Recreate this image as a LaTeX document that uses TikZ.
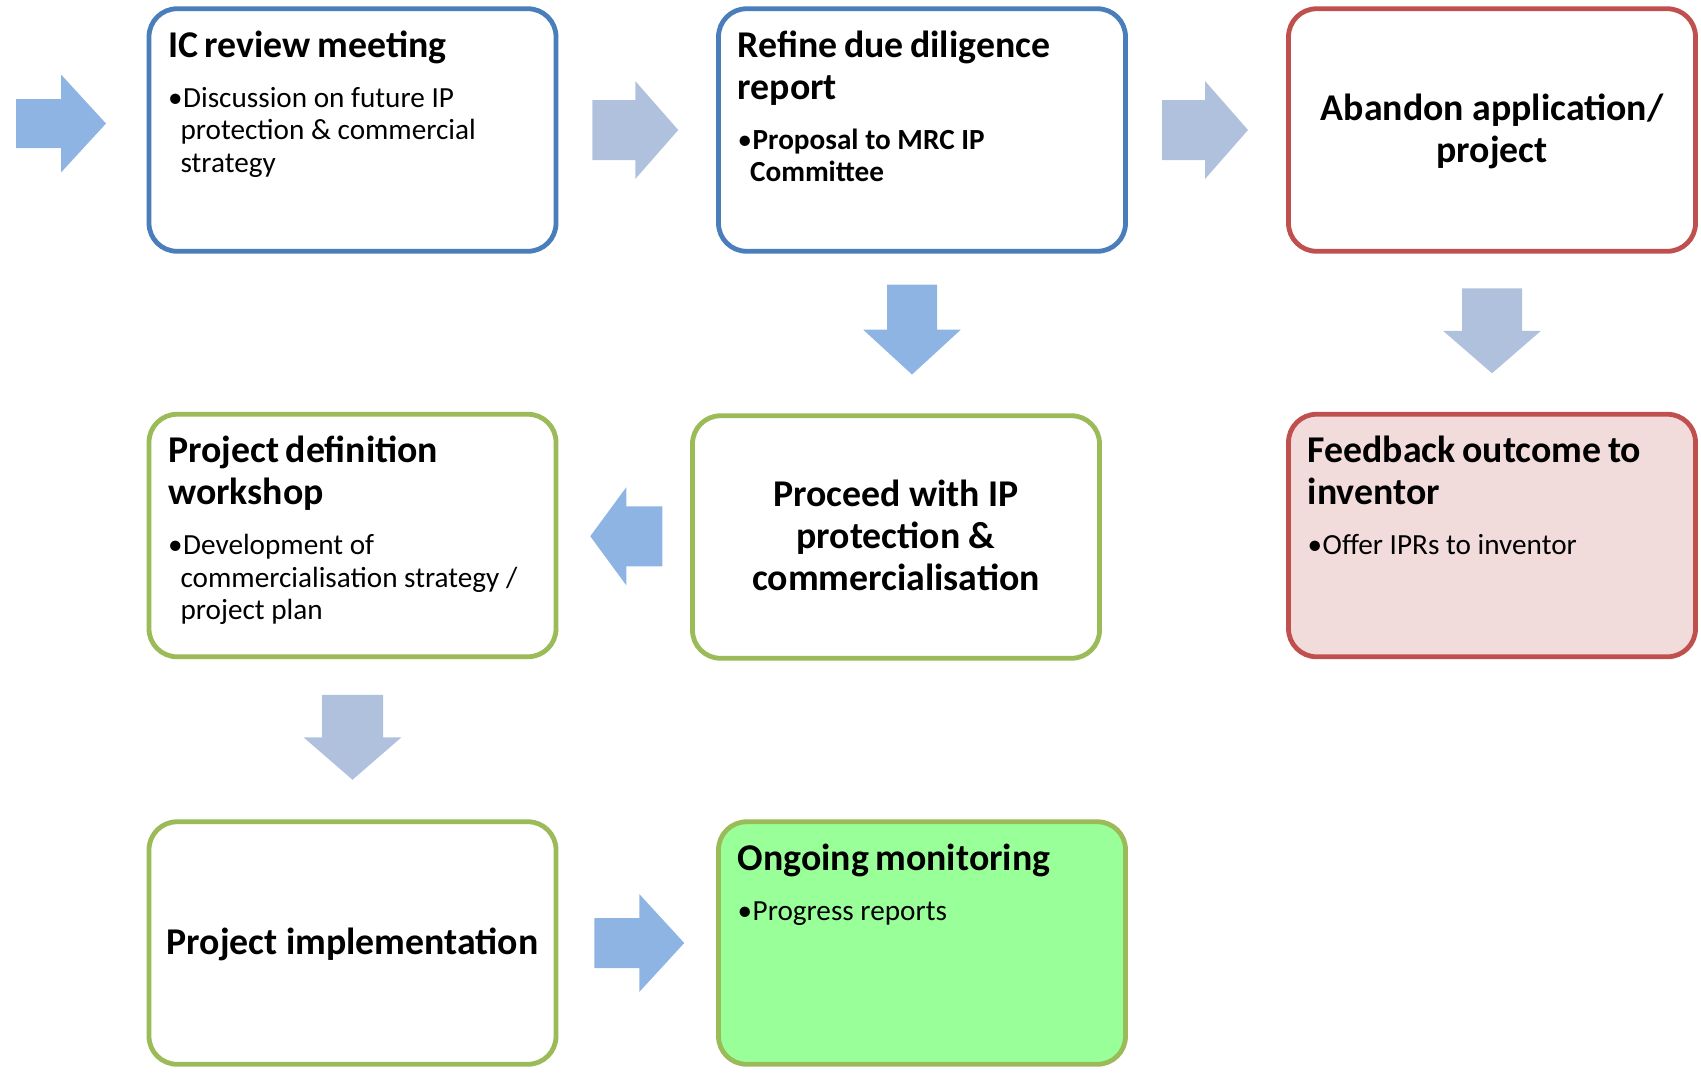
\documentclass[tikz,border=0pt]{standalone}
\usepackage{fontspec}
\setmainfont{Carlito}
\usetikzlibrary{calc}

\definecolor{boxblue}{HTML}{4A7EBB}
\definecolor{boxred}{HTML}{C0504D}
\definecolor{boxgreen}{HTML}{9BBB59}
\definecolor{fbfill}{HTML}{F2DCDB}
\definecolor{monfill}{HTML}{99FF99}
\definecolor{arrowblue}{HTML}{8EB4E3}
\definecolor{arrowgrey}{HTML}{B0C1DE}

\newcommand{\stagehead}[1]{{\fontsize{18.9}{21}\selectfont\bfseries\noindent\rule{0pt}{14pt}#1\par}}
\newcommand{\stagepoint}[1]{\vspace{8.7pt}{\fontsize{14.6}{16.3}\selectfont\noindent\hangindent=6.2pt\hangafter=1\makebox[7.5pt][l]{•}#1\par}}

\tikzset{
  stagebox/.style={draw=#1, line width=2.4pt, rounded corners=14pt, fill=white,
    minimum width=203.5pt, minimum height=121.25pt, inner sep=0pt,
    font=\fontsize{18.9}{21}\selectfont\bfseries, align=center, text depth=1.6pt},
  stagetext/.style={anchor=north west, inner sep=0pt, text width=187pt, align=left},
  pics/blockarrow/.style args={#1/#2/#3}{code={
    \fill[#1] (-#2/2,-#3/2) -- (0,-#3/2) -- (0,-49) -- (#2/2,0) -- (0,49) -- (0,#3/2) -- (-#2/2,#3/2) -- cycle;
  }}
}

\begin{document}
\begin{tikzpicture}[x=0.5pt,y=-0.5pt]
\useasboundingbox (0,0) rectangle (1701,1073);

\node[stagebox=boxblue] (ic) at (352.5,130) {};
\node[stagebox=boxblue] (ref) at (922,130) {};
\node[stagebox=boxred] (ab) at (1492,130) {Abandon application/\\ project};
\node[stagebox=boxgreen] (pd) at (352.5,535.5) {};
\node[stagebox=boxgreen] (proc) at (896,537) {Proceed with IP\\ protection \&\\ commercialisation};
\node[stagebox=boxred, fill=fbfill] (fb) at (1492,535.5) {};
\node[stagebox=boxgreen] (impl) at (352.5,943) {Project implementation};
\node[stagebox=boxgreen, fill=monfill] (mon) at (922,943) {};

\node[stagetext] (ictxt) at ([shift={(10.6pt,-11.2pt)}]ic.north west)
  {\stagehead{IC review meeting}\stagepoint{Discussion on future IP\newline protection \& commercial\newline strategy}};
\node[stagetext] (reftxt) at ([shift={(10.6pt,-11.2pt)}]ref.north west)
  {\stagehead{Refine due diligence\newline report}\stagepoint{\bfseries Proposal to MRC IP\newline Committee}};
\node[stagetext] (pdtxt) at ([shift={(10.6pt,-11.2pt)}]pd.north west)
  {\stagehead{Project definition\newline workshop}\stagepoint{Development of\newline commercialisation strategy /\newline project plan}};
\node[stagetext] (fbtxt) at ([shift={(10.6pt,-11.2pt)}]fb.north west)
  {\stagehead{Feedback outcome to\newline inventor}\stagepoint{Offer IPRs to inventor}};
\node[stagetext] (montxt) at ([shift={(10.6pt,-11.2pt)}]mon.north west)
  {\stagehead{Ongoing monitoring}\stagepoint{Progress reports}};

\coordinate (start) at (61,123.5);
\pic at (start) {blockarrow=arrowblue/90/49};
\pic at ($(ic.east)!.5!(ref.west)+(-2,0)$) {blockarrow=arrowgrey/86/60};
\pic at ($(ref.east)!.5!(ab.west)+(-2,0)$) {blockarrow=arrowgrey/86/60};
\pic[rotate=-90] at ($(ref.south)!.5!(proc.north)+(3,-4)$) {blockarrow=arrowblue/90/50};
\pic[rotate=-90] at ($(ab.south)!.5!(fb.north)+(0,-2)$) {blockarrow=arrowgrey/85/60};
\pic[rotate=180] at ($(proc.west)!.5!(pd.east)+(2,0)$) {blockarrow=arrowblue/72/60};
\pic[rotate=-90] at ($(pd.south)!.5!(impl.north)+(0,-2)$) {blockarrow=arrowgrey/85/61};
\pic at ($(impl.east)!.5!(mon.west)+(2,0)$) {blockarrow=arrowblue/90/50};

\end{tikzpicture}
\end{document}
